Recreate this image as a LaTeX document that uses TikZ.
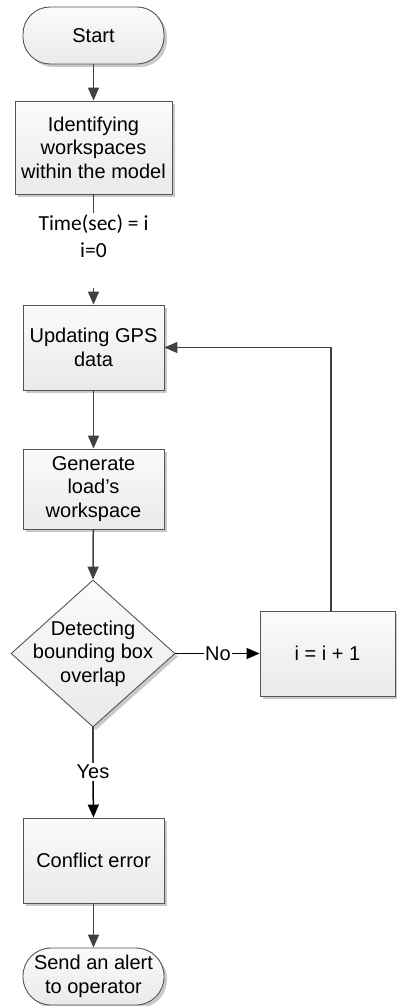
\documentclass[tikz,border=0pt]{standalone}
\usepackage{fontspec}
\setmainfont{Liberation Sans}
\newfontfamily\notefont{Carlito}
\usetikzlibrary{shapes.geometric,arrows.meta,shadows}
\definecolor{edgegray}{HTML}{555555}
\definecolor{linegray}{HTML}{404040}
\begin{document}
\begin{tikzpicture}[x=1pt,y=-1pt,
  shaded/.style={draw=edgegray, line width=0.9pt, top color=gray!3, bottom color=gray!17,
    drop shadow={shadow xshift=3pt, shadow yshift=-3pt, fill=gray!60, opacity=0.7}},
  procbox/.style={shaded, rectangle, inner sep=0pt, align=center,
    font=\fontsize{20}{23.5}\selectfont},
  termbox/.style={procbox, rounded corners=27pt},
  decbox/.style={shaded, diamond, inner sep=0pt},
  labtext/.style={font=\fontsize{20}{23.5}\selectfont, align=center},
  notetext/.style={font=\notefont\fontsize{21.5}{26.5}\selectfont, align=center, inner sep=2pt},
  flow/.style={draw=linegray, line width=1.5pt, -{Triangle[length=13pt,width=11pt]}},
  plainline/.style={draw=linegray, line width=1.5pt},
  blackflow/.style={draw=black, line width=1.5pt, -{Triangle[length=13pt,width=11pt]}},
  blackline/.style={draw=black, line width=1.5pt}
]
\useasboundingbox (0,0) rectangle (396,1006);

% main column
\node[termbox, minimum width=141pt, minimum height=57pt] (start) at (93.5,35.5) {Start};
\node[procbox, minimum width=157pt, minimum height=93pt] (ident) at (93.5,147.5)
  {Identifying\\workspaces\\within the model};
\node[notetext, anchor=north] (time) at (93.5,213) {Time(sec) = i\\i=0};
\coordinate (resume) at (93.5,288);
\node[procbox, minimum width=141pt, minimum height=85pt] (gps) at (93.5,347.5)
  {Updating GPS\\data};
\node[procbox, minimum width=141pt, minimum height=80pt] (gen) at (93.5,489)
  {Generate\\load’s\\workspace};
\node[decbox, minimum width=164pt, minimum height=147pt,
  label={[labtext]center:Detecting\\bounding box\\overlap}] (dec) at (93,653.5) {};
\node[labtext, inner sep=2pt] (yes) at (93,772) {Yes};
\node[procbox, minimum width=141pt, minimum height=85pt] (err) at (93.5,860.5)
  {Conflict error};
\node[termbox, minimum width=141pt, minimum height=57pt, rounded corners=28pt] (alert) at (93.5,976.5)
  {Send an alert\\to operator};

% loop branch
\node[labtext, inner xsep=1pt] (no) at (218,653.5) {No};
\node[procbox, minimum width=135pt, minimum height=85pt] (inc) at (327.5,653.5) {i = i + 1};

% connectors
\draw[flow] (start) -- (ident);
\draw[plainline] (ident.south) -- (time.north);
\draw[flow] (resume) -- (gps.north);
\draw[flow] (gps) -- (gen);
\draw[flow] (gen) -- (dec.north);
\draw[blackline] (dec.east) -- (no.west);
\draw[blackflow] (no.east) -- (inc.west);
\draw[flow] ([xshift=3.5pt]inc.north) |- (gps.east);
\draw[plainline] (dec.south) -- (yes.north);
\draw[blackflow] (yes.south) -- (err.north);
\draw[flow] (err) -- (alert);
\end{tikzpicture}
\end{document}
